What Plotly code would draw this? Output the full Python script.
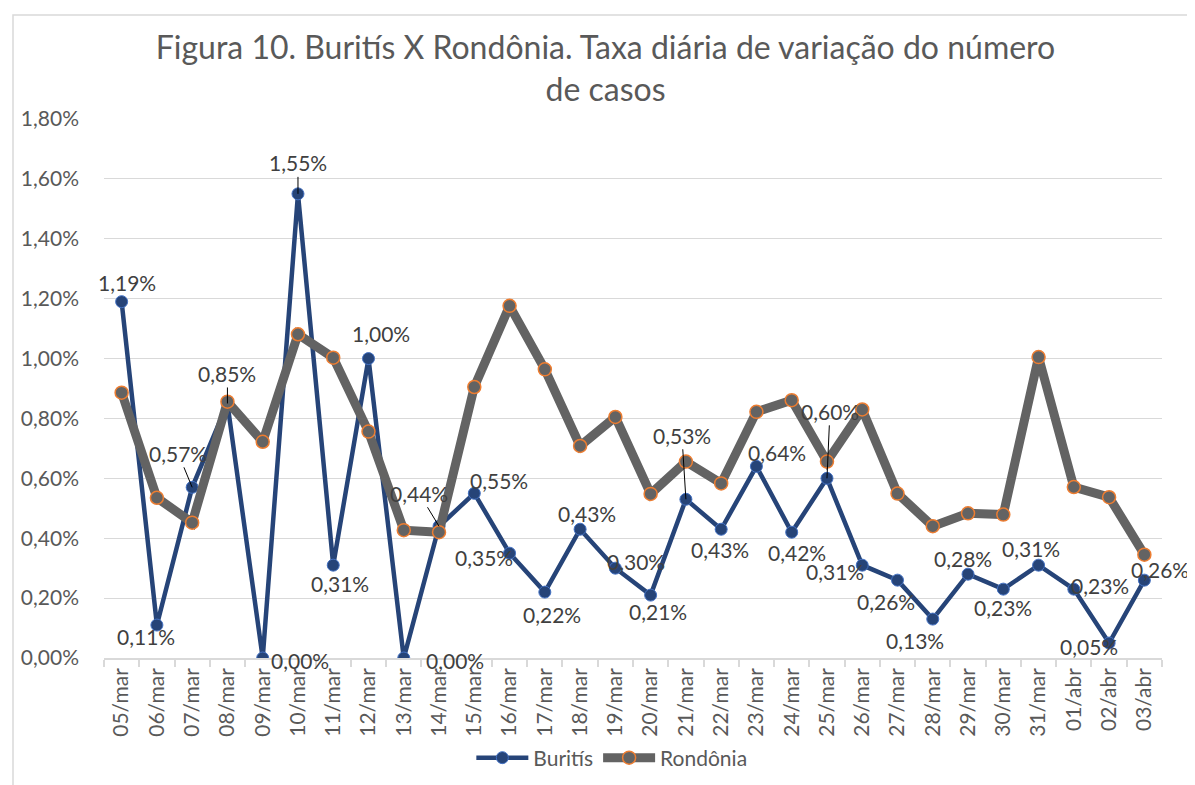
import plotly.graph_objects as go

categories = ["05/mar", "06/mar", "07/mar", "08/mar", "09/mar", "10/mar", "11/mar", "12/mar",
              "13/mar", "14/mar", "15/mar", "16/mar", "17/mar", "18/mar", "19/mar", "20/mar",
              "21/mar", "22/mar", "23/mar", "24/mar", "25/mar", "26/mar", "27/mar", "28/mar",
              "29/mar", "30/mar", "31/mar", "01/abr", "02/abr", "03/abr"]

buritis = [1.19, 0.11, 0.57, 0.85, 0.00, 1.55, 0.31, 1.00, 0.00, 0.44,
           0.55, 0.35, 0.22, 0.43, 0.30, 0.21, 0.53, 0.43, 0.64, 0.42,
           0.60, 0.31, 0.26, 0.13, 0.28, 0.23, 0.31, 0.23, 0.05, 0.26]

rondonia = [0.886, 0.535, 0.452, 0.856, 0.722, 1.081, 1.003, 0.756, 0.427, 0.420,
            0.905, 1.176, 0.964, 0.708, 0.805, 0.548, 0.656, 0.583, 0.822, 0.861,
            0.656, 0.830, 0.549, 0.440, 0.483, 0.479, 1.005, 0.571, 0.537, 0.345]

y_ticks = [0.0, 0.2, 0.4, 0.6, 0.8, 1.0, 1.2, 1.4, 1.6, 1.8]
y_tick_labels = ["0,00%", "0,20%", "0,40%", "0,60%", "0,80%", "1,00%", "1,20%", "1,40%", "1,60%", "1,80%"]

title_text = "Figura 10. Buritís X Rondônia. Taxa diária de variação do número<br>de casos"

# label placement (pixel offsets, leader line flag) for Buritís data labels
label_dx = [5, -11, -14, 0, 37, 0, 7, 12, 51, -20, 25, -26, 7, 7, 21, 7, -4, -1, 21, 5,
            3, -27, -12, -18, -5, 0, -8, 26, -20, 16]
label_dy = [-19, 11, -34, -30, 2, -31, 18, -25, 2, -33, -13, 4, 22, -16, -7, 16, -64, 20, -14, 20,
            -67, 6, 21, 21, -16, 18, -17, -4, 3, -11]
label_leader = [False, False, True, True, False, True, False, False, False, True,
                False, False, False, False, False, False, True, False, False, False,
                True, False, False, False, False, False, False, False, False, False]

FONT = "Lato"
L, R, T, B = 96, 41, 111, 135
W, H = 1195, 785
pw, ph = W - L - R, H - T - B

fig = go.Figure()
fig.add_trace(go.Scatter(
    x=categories, y=buritis, name="Buritís", mode="lines+markers",
    line=dict(color="#264478", width=4.5),
    marker=dict(size=12, color="#264478", line=dict(color="#4472C4", width=1)),
))
fig.add_trace(go.Scatter(
    x=categories, y=rondonia, name="Rondônia", mode="lines+markers",
    line=dict(color="#636363", width=9),
    marker=dict(size=13, color="#636363", line=dict(color="#ED7D31", width=1.5)),
))

annotations = []
for i, (c, v) in enumerate(zip(categories, buritis)):
    txt = f"{v:.2f}%".replace(".", ",")
    if label_leader[i]:
        annotations.append(dict(x=c, y=v, xref="x", yref="y", text=txt, showarrow=True,
                                arrowhead=0, arrowwidth=1, arrowcolor="#000000",
                                ax=label_dx[i], ay=label_dy[i], standoff=0,
                                font=dict(family=FONT, size=21, color="#404040")))
    else:
        annotations.append(dict(x=c, y=v, xref="x", yref="y", text=txt, showarrow=False,
                                xshift=label_dx[i], yshift=-label_dy[i],
                                font=dict(family=FONT, size=21, color="#404040")))

fig.update_layout(
    width=W, height=H,
    margin=dict(l=L, r=R, t=T, b=B),
    paper_bgcolor="white", plot_bgcolor="white",
    title=dict(text=title_text, x=0.5, xref="container", xanchor="center",
               y=1 - 51 / H, yref="container", yanchor="top",
               font=dict(family=FONT, size=32, color="#595959")),
    font=dict(family=FONT, color="#595959"),
    showlegend=True,
    legend=dict(orientation="h", x=0.48, xanchor="center", y=(650 - 750) / ph, yanchor="middle",
                font=dict(family=FONT, size=21, color="#595959"), itemwidth=52,
                bgcolor="rgba(0,0,0,0)"),
    annotations=annotations,
    shapes=[dict(type="rect", xref="paper", yref="paper",
                 x0=(5 - L) / pw, x1=(1192 - L) / pw,
                 y0=-(790 - (H - B)) / ph, y1=1 + (T - 7) / ph,
                 line=dict(color="#d9d9d9", width=1.5), layer="below")],
)

fig.update_xaxes(type="category", range=[-0.5, len(categories) - 0.5],
                 tickangle=-90, showline=True, linecolor="#d9d9d9", linewidth=1.5,
                 ticks="outside", tickcolor="#d9d9d9", ticklen=7, tickwidth=1.5,
                 tickson="boundaries", showgrid=False,
                 tickfont=dict(family=FONT, size=21, color="#595959"))
fig.update_yaxes(range=[0, 1.8], tickvals=y_ticks, ticktext=y_tick_labels,
                 showgrid=True, gridcolor="#d9d9d9", gridwidth=1.3, zeroline=False,
                 showline=False, ticks="", ticklabelstandoff=24,
                 tickfont=dict(family=FONT, size=21, color="#595959"))

fig.write_html("out.html")
